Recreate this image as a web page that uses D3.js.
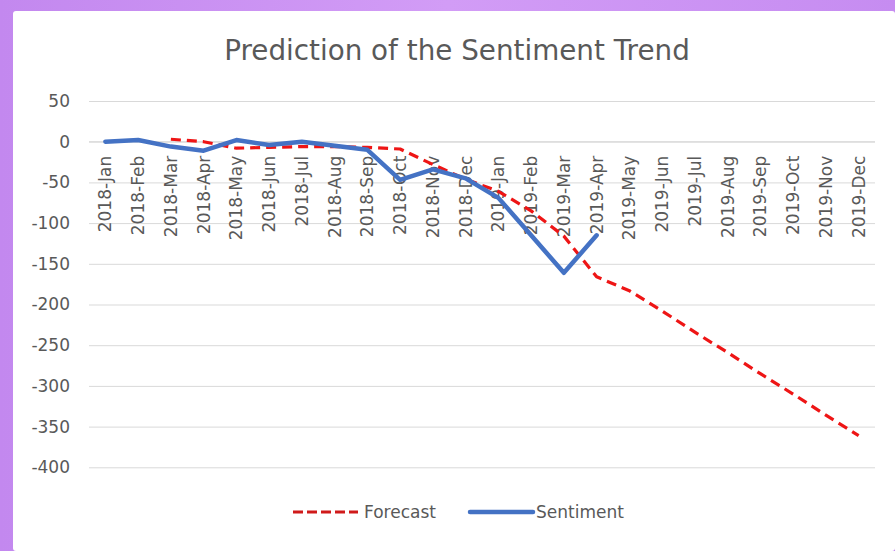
<!DOCTYPE html>
<html>
<head>
<meta charset="utf-8">
<script src="https://cdn.jsdelivr.net/npm/d3@7"></script>
<style>
  html, body { margin: 0; padding: 0; background: #c98cf2; }
  svg { display: block; }
</style>
</head>
<body>
<svg id="chart" width="895" height="551"></svg>
<script>
// Monthly categories, 2018-Jan .. 2019-Dec
const months = [
  "2018-Jan","2018-Feb","2018-Mar","2018-Apr","2018-May","2018-Jun",
  "2018-Jul","2018-Aug","2018-Sep","2018-Oct","2018-Nov","2018-Dec",
  "2019-Jan","2019-Feb","2019-Mar","2019-Apr","2019-May","2019-Jun",
  "2019-Jul","2019-Aug","2019-Sep","2019-Oct","2019-Nov","2019-Dec"
];

// Observed sentiment (2018-Jan .. 2019-Apr)
const sentiment = [0, 2, -6, -11, 2, -4, 0, -5, -10, -47, -34, -45, -69, -115, -161, -115];

// Forecast (2018-Mar .. 2019-Dec); first two months have no forecast
const forecast = [null, null, 3, 0, -8, -7, -6, -6, -7, -9, -28, -46, -61, -85, -116, -166,
                  -183, -208, -234, -259, -285, -310, -336, -361];

const yTicks = [50, 0, -50, -100, -150, -200, -250, -300, -350, -400];

const titleText = "Prediction of the Sentiment Trend";
const seriesNames = ["Forecast", "Sentiment"];

const svg = d3.select("#chart");
const W = 895, H = 551;
const textColor = "#595959";
const font = "'DejaVu Sans', sans-serif";

// purple frame with white card
const defs = svg.append("defs");
const grad = defs.append("linearGradient").attr("id", "frame").attr("x1", 0).attr("x2", 1).attr("y1", 0).attr("y2", 0);
grad.append("stop").attr("offset", "0%").attr("stop-color", "#c388ef");
grad.append("stop").attr("offset", "50%").attr("stop-color", "#d29cf6");
grad.append("stop").attr("offset", "100%").attr("stop-color", "#c68cf1");
svg.append("rect").attr("width", W).attr("height", H).attr("fill", "url(#frame)");
svg.append("rect").attr("x", 13).attr("y", 11).attr("width", W - 13).attr("height", H - 11)
  .attr("rx", 3).attr("fill", "#ffffff");

// scales
const x = d3.scaleBand().domain(months).range([89, 875]).padding(0);
const y = d3.scaleLinear().domain([-400, 50]).range([467.3, 101]);
const cx = m => x(m) + x.bandwidth() / 2;

// title
svg.append("text")
  .attr("x", 457).attr("y", 60)
  .attr("text-anchor", "middle")
  .attr("font-family", font).attr("font-size", 27.8)
  .attr("fill", textColor)
  .text(titleText);

// horizontal gridlines + y tick labels via axis
const yAxis = d3.axisLeft(y).tickValues(yTicks).tickSize(-(875 - 89)).tickPadding(19)
  .tickFormat(d3.format("d"));
const gy = svg.append("g").attr("transform", "translate(89,0)").call(yAxis);
gy.select(".domain").remove();
gy.selectAll(".tick line").attr("stroke", "#d9d9d9").attr("stroke-width", 1);
gy.selectAll(".tick text")
  .attr("font-family", font).attr("font-size", 17).attr("fill", textColor)
  .text(d => d < 0 ? "-" + Math.abs(d) : d);

// category axis crossing at zero
svg.append("line")
  .attr("x1", 89).attr("x2", 875).attr("y1", y(0)).attr("y2", y(0))
  .attr("stroke", "#d9d9d9").attr("stroke-width", 1);

// rotated month labels hanging below the zero line
svg.append("g").selectAll("text").data(months).join("text")
  .attr("transform", d => `translate(${cx(d) + 6},${y(0) + 14}) rotate(-90)`)
  .attr("text-anchor", "end")
  .attr("font-family", font).attr("font-size", 17).attr("fill", textColor)
  .text(d => d);

// lines
const fcData = months.map((m, i) => ({ m, v: forecast[i] })).filter(d => d.v !== null);
const stData = sentiment.map((v, i) => ({ m: months[i], v }));
const line = d3.line().x(d => cx(d.m)).y(d => y(d.v));

const redColor = "#ee1515";
const blueColor = "#4472c4";

svg.append("path").datum(fcData)
  .attr("d", line)
  .attr("fill", "none").attr("stroke", redColor).attr("stroke-width", 3.2)
  .attr("stroke-dasharray", "10,6").attr("stroke-linejoin", "round");

svg.append("path").datum(stData)
  .attr("d", line)
  .attr("fill", "none").attr("stroke", blueColor).attr("stroke-width", 4.5)
  .attr("stroke-linejoin", "round").attr("stroke-linecap", "round");

// legend
const lg = svg.append("g");
const ly = 512;
lg.append("line").attr("x1", 293).attr("x2", 358).attr("y1", ly).attr("y2", ly)
  .attr("stroke", "#d01a1a").attr("stroke-width", 3.2).attr("stroke-dasharray", "10,4");
lg.append("text").attr("x", 364).attr("y", ly).attr("dy", "0.36em")
  .attr("font-family", font).attr("font-size", 17).attr("fill", textColor)
  .text(seriesNames[0]);
lg.append("line").attr("x1", 470).attr("x2", 533).attr("y1", ly).attr("y2", ly)
  .attr("stroke", blueColor).attr("stroke-width", 4.5).attr("stroke-linecap", "round");
lg.append("text").attr("x", 536).attr("y", ly).attr("dy", "0.36em")
  .attr("font-family", font).attr("font-size", 17).attr("fill", textColor)
  .text(seriesNames[1]);
</script>
</body>
</html>
